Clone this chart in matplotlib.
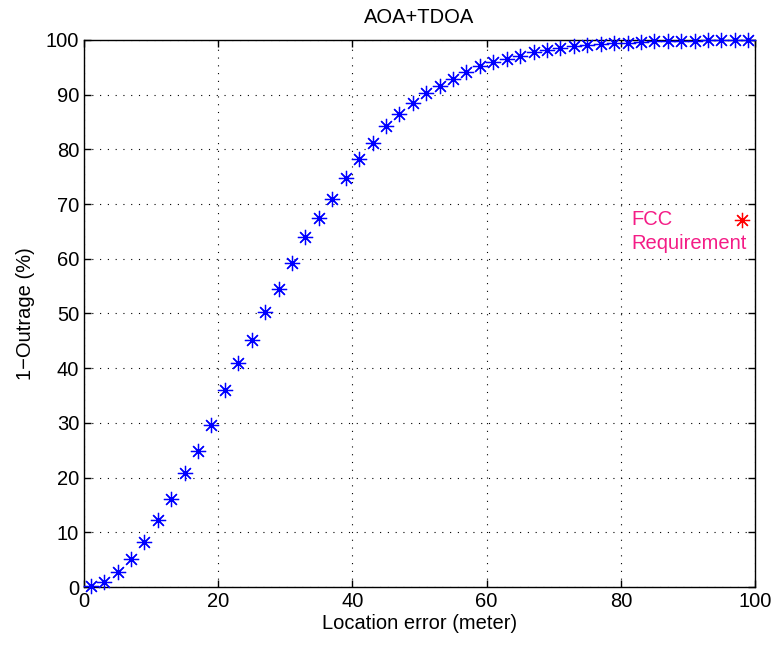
import matplotlib
matplotlib.use("Agg")
import matplotlib.pyplot as plt

plt.rcParams['font.family'] = ['Liberation Sans', 'DejaVu Sans']

location_error = [1, 3, 5, 7, 9, 11, 13, 15, 17, 19, 21, 23, 25, 27, 29, 31, 33, 35, 37, 39,
                  41, 43, 45, 47, 49, 51, 53, 55, 57, 59, 61, 63, 65, 67, 69, 71, 73, 75, 77, 79,
                  81, 83, 85, 87, 89, 91, 93, 95, 97, 99]
coverage = [0.2, 1.0, 2.8, 5.1, 8.3, 12.2, 16.0, 20.9, 24.9, 29.6, 36.0, 41.0, 45.2, 50.2, 54.5,
            59.2, 63.9, 67.5, 70.9, 74.8, 78.2, 81.2, 84.2, 86.4, 88.5, 90.2, 91.5, 92.8, 94.1,
            95.3, 95.9, 96.5, 97.1, 97.7, 98.2, 98.5, 98.8, 99.1, 99.2, 99.4, 99.5, 99.6, 99.7,
            99.75, 99.8, 99.85, 99.9, 99.92, 99.95, 99.97]

fcc_x = [98]
fcc_y = [67]
fcc_label = "FCC\nRequirement"

# matlab style asterisk: plus and cross together
star = (8, 2, 0)

fig = plt.figure(figsize=(7.74, 6.46), dpi=100)
ax = fig.add_axes([0.1085, 0.0913, 0.867, 0.847])

ax.plot(location_error, coverage, linestyle='none', marker=star, color='blue',
        markersize=11, markeredgewidth=0.9, clip_on=False, zorder=3)
ax.plot(fcc_x, fcc_y, linestyle='none', marker=star, color='red',
        markersize=11, markeredgewidth=0.9, clip_on=False, zorder=3)
ax.text(81.6, 65.0, fcc_label, color='#F41C86', fontsize=14.5, ha='left', va='center',
        linespacing=1.3)

ax.set_xlim(0, 100)
ax.set_ylim(0, 100)
ax.set_xticks(range(0, 101, 20))
ax.set_yticks(range(0, 101, 10))
ax.grid(True, color='black', linestyle=(0, (1, 6)), linewidth=0.8)
ax.tick_params(direction='in', top=True, right=True, labelsize=14.5, length=5, width=1)
for s in ax.spines.values():
    s.set_linewidth(1.0)

ax.set_title("AOA+TDOA", fontsize=14.5, pad=12)
ax.set_xlabel("Location error (meter)", fontsize=14.5, labelpad=2)
ax.set_ylabel("1\u2212Outrage (%)", fontsize=14.5, labelpad=8)

fig.savefig("out.png", dpi=100)
